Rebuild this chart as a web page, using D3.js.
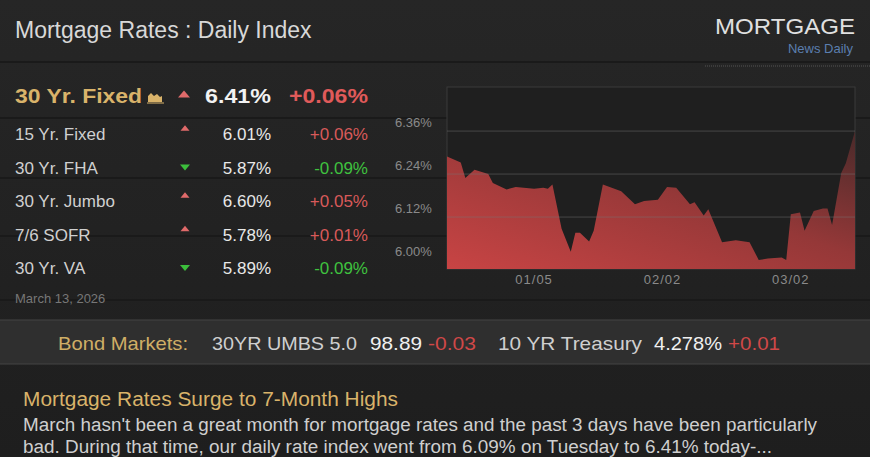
<!DOCTYPE html>
<html><head><meta charset="utf-8">
<script src="https://cdn.jsdelivr.net/npm/d3@7"></script>
<style>
body{margin:0;background:#222;overflow:hidden}
text{font-family:"Liberation Sans",Arial,sans-serif}
</style></head><body>
<svg id="c" width="870" height="457"></svg>
<script>
const products = ["15 Yr. Fixed","30 Yr. FHA","30 Yr. Jumbo","7/6 SOFR","30 Yr. VA"];
const productRates = ["6.01%","5.87%","6.60%","5.78%","5.89%"];
const productChanges = ["+0.06%","-0.09%","+0.05%","+0.01%","-0.09%"];
const days = [0,3,4,6,9,10,13,15,19,21,22,23,25,27,28,29,31,32,34,38,41,43,46,48,50,53,54,56,57,60,63,66,68,70,73,74,75,77,78,80,82,83,84,86,87,89];
const rates = [6.289,6.272,6.229,6.252,6.24,6.215,6.197,6.204,6.199,6.202,6.199,6.211,6.087,6.023,6.076,6.076,6.052,6.082,6.211,6.192,6.156,6.165,6.168,6.204,6.202,6.156,6.161,6.124,6.142,6.05,6.055,6.05,6.0,6.004,6.007,6.0,6.128,6.133,6.082,6.137,6.144,6.144,6.098,6.243,6.27,6.36];
const yTicks = [6.00,6.12,6.24,6.36];
const xTickDays = [19,47,75];
const xTickLabels = ["01/05","02/02","03/02"];

const svg = d3.select("#c");
const defs = svg.append("defs");
const bg = defs.append("linearGradient").attr("id","bg").attr("x1",0).attr("y1",0).attr("x2",0).attr("y2",1);
bg.append("stop").attr("offset",0).attr("stop-color","#262626");
bg.append("stop").attr("offset",1).attr("stop-color","#1e1e1e");
svg.append("rect").attr("width",870).attr("height",457).attr("fill","url(#bg)");
[62,118,178,236,300].forEach(y=>svg.append("line").attr("x1",0).attr("x2",870).attr("y1",y).attr("y2",y).attr("stroke","#1a1a1a").attr("stroke-width",2));

svg.append("text").attr("x",15).attr("y",38).attr("fill","#d8d8d8").attr("font-size",23).text("Mortgage Rates : Daily Index");
svg.append("text").attr("x",855).attr("y",34).attr("text-anchor","end").attr("fill","#e0e0e0").attr("font-size",22).attr("textLength",140).attr("lengthAdjust","spacingAndGlyphs").text("MORTGAGE");
svg.append("text").attr("x",853).attr("y",53).attr("text-anchor","end").attr("fill","#5b7fb0").attr("font-size",13).text("News Daily");
svg.append("line").attr("x1",705).attr("x2",870).attr("y1",66).attr("y2",66).attr("stroke","#555").attr("stroke-dasharray","1,1");

const fw = (sel,w)=>sel.attr("textLength",w).attr("lengthAdjust","spacingAndGlyphs");
fw(svg.append("text").attr("x",15).attr("y",103).attr("fill","#d9b36a").attr("font-size",21).attr("font-weight","bold").text("30 Yr. Fixed"),127);
// small chart icon
svg.append("path").attr("d","M148,102L148,96L151,93L154,96L157,94L160,97L162,96L162,102Z").attr("fill","#d9b36a");
svg.append("line").attr("x1",147).attr("x2",164).attr("y1",103).attr("y2",103).attr("stroke","#d9b36a");
const up = (x,y,s)=>svg.append("path").attr("d",`M${x-s},${y+s*0.6}L${x},${y-s*0.6}L${x+s},${y+s*0.6}Z`).attr("fill","#e06a6a");
const dn = (x,y,s)=>svg.append("path").attr("d",`M${x-s},${y-s*0.6}L${x},${y+s*0.6}L${x+s},${y-s*0.6}Z`).attr("fill","#3cbf3c");
up(184,94,6);
fw(svg.append("text").attr("x",271).attr("y",103).attr("text-anchor","end").attr("fill","#f2f2f2").attr("font-size",21).attr("font-weight","bold").text("6.41%"),66);
fw(svg.append("text").attr("x",368).attr("y",103).attr("text-anchor","end").attr("fill","#e05a5a").attr("font-size",21).attr("font-weight","bold").text("+0.06%"),79);
products.forEach((p,i)=>{
  const y=140+i*33.5;
  svg.append("text").attr("x",15).attr("y",y).attr("fill","#d0d0d0").attr("font-size",17).text(p);
  const isUp = productChanges[i][0]==="+";
  if(isUp) up(185,y-12,4.5); else dn(185,y-6,5);
  svg.append("text").attr("x",271).attr("y",y).attr("text-anchor","end").attr("fill","#e8e8e8").attr("font-size",17).text(productRates[i]);
  svg.append("text").attr("x",368).attr("y",y).attr("text-anchor","end").attr("fill",isUp?"#d85a5a":"#3fc13f").attr("font-size",17).text(productChanges[i]);
});
svg.append("text").attr("x",15).attr("y",303).attr("fill","#777").attr("font-size",13).text("March 13, 2026");

const L=447,R=855,T=87,B=269;
const x=d3.scaleLinear().domain([0,89]).range([L,R]);
const y=d3.scaleLinear().domain([5.975,6.483]).range([B,T]);
const g=defs.append("linearGradient").attr("id","fill").attr("x1",0).attr("y1",1).attr("x2",1).attr("y2",0);
g.append("stop").attr("offset",0).attr("stop-color","#c84444");
g.append("stop").attr("offset",0.55).attr("stop-color","#953838");
g.append("stop").attr("offset",1).attr("stop-color","#4a2a2a");
svg.append("rect").attr("x",L).attr("y",T).attr("width",R-L).attr("height",B-T).attr("fill","#1f1f1f").attr("stroke","#3a3a3a");
svg.append("path").datum(days.map((d,i)=>[d,rates[i]]))
  .attr("d",d3.area().x(d=>x(d[0])).y0(B).y1(d=>y(d[1])))
  .attr("fill","url(#fill)");
const ya=svg.append("g").selectAll("g").data(yTicks).join("g");
ya.filter(d=>d>6).append("line").attr("x1",L).attr("x2",R).attr("y1",d=>y(d)).attr("y2",d=>y(d)).attr("stroke","#777").attr("stroke-opacity",0.45);
ya.append("text").attr("x",395).attr("y",d=>y(d)-4).attr("fill","#8a8a8a").attr("font-size",13).text(d=>d.toFixed(2)+"%");
svg.append("g").selectAll("text").data(xTickDays).join("text").attr("x",d=>x(d)).attr("y",284).attr("text-anchor","middle")
  .attr("fill","#8a8a8a").attr("font-size",13).attr("letter-spacing","1").text((d,i)=>xTickLabels[i]);

svg.append("rect").attr("x",0).attr("y",320).attr("width",870).attr("height",44).attr("fill","#2f2f2f");
svg.append("line").attr("x1",0).attr("x2",870).attr("y1",320).attr("y2",320).attr("stroke","#444");
svg.append("line").attr("x1",0).attr("x2",870).attr("y1",364).attr("y2",364).attr("stroke","#444");
[["Bond Markets:","#cfae66",58,130],["30YR UMBS 5.0","#cfcfcf",212,145],["98.89","#f0f0f0",370,52],["-0.03","#d04848",428,48],["10 YR Treasury","#cfcfcf",498,144],["4.278%","#f0f0f0",654,68],["+0.01","#d04848",728,52]].forEach(s=>{
  fw(svg.append("text").attr("x",s[2]).attr("y",350).attr("font-size",19).attr("fill",s[1]).text(s[0]),s[3]);
});
fw(svg.append("text").attr("x",23).attr("y",406).attr("font-size",20).attr("fill","#d9b36a").text("Mortgage Rates Surge to 7-Month Highs"),375);
fw(svg.append("text").attr("x",23).attr("y",431).attr("font-size",18).attr("fill","#cfcfcf").text("March hasn't been a great month for mortgage rates and the past 3 days have been particularly"),794);
fw(svg.append("text").attr("x",23).attr("y",453).attr("font-size",18).attr("fill","#cfcfcf").text("bad. During that time, our daily rate index went from 6.09% on Tuesday to 6.41% today-..."),749);
</script></body></html>
